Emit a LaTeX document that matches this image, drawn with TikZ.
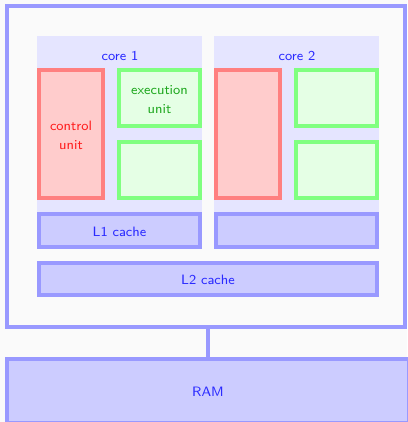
\documentclass[tikz,border=0pt]{standalone}
\usepackage{tikz}
\definecolor{pagebg}{HTML}{FAFAFA}
\definecolor{cacheline}{HTML}{9999FF}
\definecolor{cachefill}{HTML}{CCCCFF}
\definecolor{corefill}{HTML}{E5E5FF}
\definecolor{ctrlline}{HTML}{FF8080}
\definecolor{ctrlfill}{HTML}{FFCCCC}
\definecolor{execline}{HTML}{80FF80}
\definecolor{execfill}{HTML}{E5FFE5}
\definecolor{bluetext}{HTML}{2A2AFF}
\definecolor{redtext}{HTML}{FF1C1C}
\definecolor{greentext}{HTML}{1FA81F}
% small sans labels, enlarged as a whole and set a little low in their boxes
\newcommand{\boxlabel}[1]{\raisebox{-2pt}[\height][\depth]{\scalebox{1.7}{\sffamily\fontsize{8}{11.2}\selectfont
  \begin{tabular}{@{}c@{}}#1\end{tabular}}}}
\begin{document}
\begin{tikzpicture}[x=1pt,y=-1pt,
  every node/.style={align=center, inner sep=0pt, outer sep=0pt},
  unitbox/.style={draw, line width=4pt, rectangle},
  chipbox/.style={unitbox, draw=cacheline, fill=pagebg},
  cachebox/.style={unitbox, draw=cacheline, fill=cachefill, text=bluetext},
  corebg/.style={fill=corefill, rectangle, minimum width=165pt, minimum height=176pt},
  ctrlbox/.style={unitbox, draw=ctrlline, fill=ctrlfill, text=redtext,
    minimum width=64pt, minimum height=128pt},
  execbox/.style={unitbox, draw=execline, fill=execfill, text=greentext,
    minimum width=81pt, minimum height=56pt},
  l1box/.style={cachebox, minimum width=161pt, minimum height=33pt},
  corelabel/.style={text=bluetext},
  link/.style={draw=cacheline, line width=4pt}
]
\useasboundingbox (0,0) rectangle (407,422);
\fill[pagebg] (0,0) rectangle (407,422);

% processor chip
\node[chipbox, minimum width=398pt, minimum height=321pt] (chip) at (206,166.5) {};

% core 1
\node[corebg] (core1) at (119.5,124) {};
\node[corelabel] (core1lab) at (120,55) {\boxlabel{core 1}};
\node[ctrlbox] (cu1) at (71,134) {\boxlabel{control\\unit}};
\node[execbox] (eu1a) at (159.5,98) {\boxlabel{execution\\unit}};
\node[execbox] (eu1b) at (159.5,170) {};
\node[l1box] (l1a) at (119.5,230.5) {\boxlabel{L1 cache}};

% core 2
\node[corebg] (core2) at (296.5,124) {};
\node[corelabel] (core2lab) at (297,55) {\boxlabel{core 2}};
\node[ctrlbox] (cu2) at (248,134) {};
\node[execbox] (eu2a) at (336.5,98) {};
\node[execbox] (eu2b) at (336.5,170) {};
\node[l1box] (l1b) at (296.5,230.5) {};

% shared L2
\node[cachebox, minimum width=338pt, minimum height=32pt] (l2) at (208,279) {\boxlabel{L2 cache}};

% main memory
\node[cachebox, minimum width=402pt, minimum height=64pt] (ram) at (208,391) {\boxlabel{RAM}};

\draw[link] (chip.south -| ram.north) -- (ram.north);
\end{tikzpicture}
\end{document}
